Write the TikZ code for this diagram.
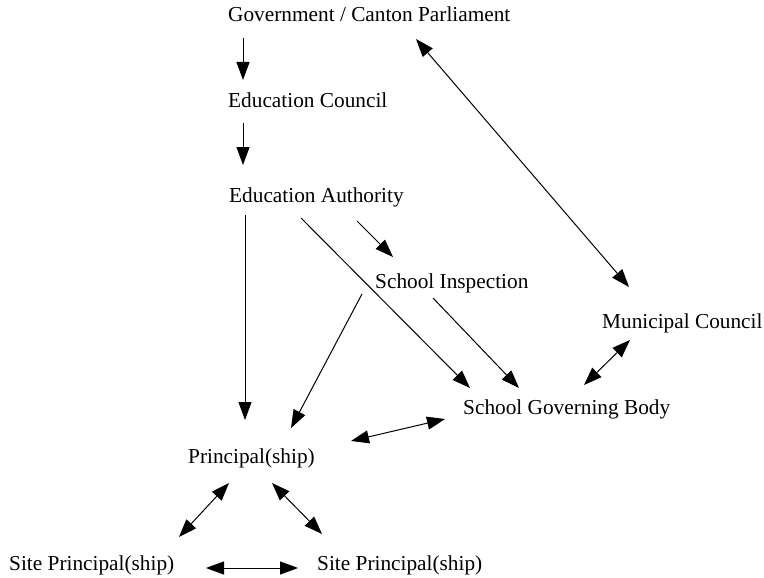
\documentclass[tikz,border=0pt]{standalone}
\usepackage{fontspec}
\setmainfont{Liberation Serif}
\usetikzlibrary{arrows.meta,calc}
\tikzset{
  lbl/.style={anchor=base west,inner sep=0pt,font=\fontsize{21.3}{25}\selectfont},
  arr/.style={line width=1pt,-{Triangle[length=18pt,width=13pt]}},
  darr/.style={line width=1pt,{Triangle[length=18pt,width=13pt]}-{Triangle[length=18pt,width=13pt]}}
}
\begin{document}
\begin{tikzpicture}[x=1pt,y=-1pt]
\useasboundingbox (0,0) rectangle (764,578);
\node[lbl] (gov) at (228,22) {Government / Canton Parliament};
\node[lbl] (edc) at (228,107) {Education Council};
\node[lbl] (eda) at (229,202) {Education Authority};
\node[lbl] (sci) at (375,288) {School Inspection};
\node[lbl] (mun) at (602,328) {Municipal Council};
\node[lbl] (sgb) at (463,414) {School Governing Body};
\node[lbl] (pri) at (188,463) {Principal(ship)};
\node[lbl] (sl) at (9,570) {Site Principal(ship)};
\node[lbl] (sr) at (317,570) {Site Principal(ship)};
% connectors
\draw[arr] ($(gov.base west)+(15,16)$) -- ($(edc.base west)+(15,-27)$);
\draw[arr] ($(edc.base west)+(15,16)$) -- ($(eda.base west)+(14,-37)$);
\draw[arr] ($(eda.base west)+(16,13)$) -- ($(pri.base west)+(57,-43)$);
\draw[arr] ($(eda.base west)+(128,19)$) -- ($(sci.base west)+(18,-31)$);
\draw[arr] ($(eda.base west)+(72,16)$) -- ($(sgb.base west)+(7,-26)$);
\draw[arr] ($(sci.base west)+(-13,6)$) -- ($(pri.base west)+(103,-35)$);
\draw[arr] ($(sci.base west)+(58,10)$) -- ($(sgb.base west)+(56,-26)$);
\draw[darr] ($(gov.base west)+(188,17)$) -- ($(mun.base west)+(27,-41)$);
\draw[darr] ($(mun.base west)+(28,12)$) -- ($(sgb.base west)+(121,-29)$);
\draw[darr] ($(pri.base west)+(163,-22)$) -- ($(sgb.base west)+(-18,5)$);
\draw[darr] ($(pri.base west)+(41,20)$) -- ($(sl.base west)+(170,-33)$);
\draw[darr] ($(pri.base west)+(84,20)$) -- ($(sr.base west)+(5,-36)$);
\draw[darr] ($(sl.base west)+(197,-2)$) -- ($(sr.base west)+(-19,-2)$);
\end{tikzpicture}
\end{document}
